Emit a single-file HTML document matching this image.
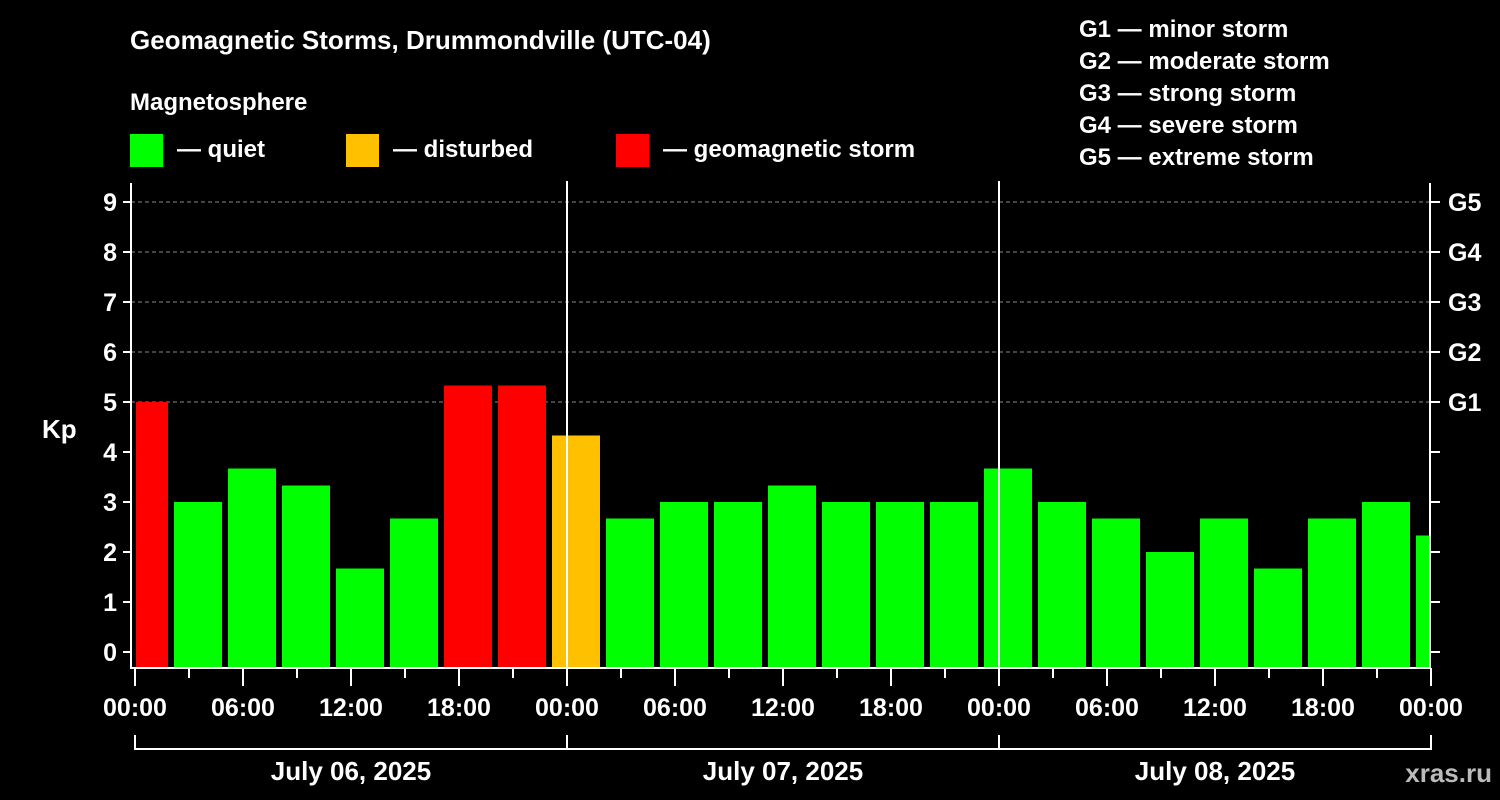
<!DOCTYPE html>
<html><head><meta charset="utf-8"><style>
html,body{margin:0;padding:0;background:#000;width:1500px;height:800px;overflow:hidden}
svg text{font-family:"Liberation Sans",Arial,sans-serif;font-weight:bold;fill:#fff}
</style></head><body>
<svg id="chart" width="1500" height="800" xmlns="http://www.w3.org/2000/svg">
<text x="130" y="49" font-size="26">Geomagnetic Storms, Drummondville (UTC-04)</text>
<text x="130" y="110" font-size="24">Magnetosphere</text>
<g><rect x="130" y="134" width="33" height="33" fill="#00ff00"/><text x="177" y="157" font-size="24">— quiet</text></g>
<g><rect x="346" y="134" width="33" height="33" fill="#ffc000"/><text x="393" y="157" font-size="24">— disturbed</text></g>
<g><rect x="616" y="134" width="33" height="33" fill="#ff0000"/><text x="663" y="157" font-size="24">— geomagnetic storm</text></g>
<g font-size="24">
<text x="1079" y="37">G1 — minor storm</text>
<text x="1079" y="69">G2 — moderate storm</text>
<text x="1079" y="101">G3 — strong storm</text>
<text x="1079" y="133">G4 — severe storm</text>
<text x="1079" y="165">G5 — extreme storm</text>
</g>
<text x="42" y="438" font-size="26">Kp</text>
<text x="1492" y="782" font-size="26" text-anchor="end" fill="#ccc" style="fill:#bbb">xras.ru</text>
<g id="grid"></g><g id="bars"></g><g id="axes"></g>
</svg>
<script>
const kpValues=[5.0,3.0,3.67,3.33,1.67,2.67,5.33,5.33,4.33,2.67,3.0,3.0,3.33,3.0,3.0,3.0,3.67,3.0,2.67,2.0,2.67,1.67,2.67,3.0,2.33];
const yTicks=[0,1,2,3,4,5,6,7,8,9];
const gLabels=["G1","G2","G3","G4","G5"];
const xTickLabels=["00:00","06:00","12:00","18:00","00:00","06:00","12:00","18:00","00:00","06:00","12:00","18:00","00:00"];
const dateLabels=["July 06, 2025","July 07, 2025","July 08, 2025"];
const NS="http://www.w3.org/2000/svg";
const X0=135,PXH=18,L=131,R=1430,T=183,B=668;
const xh=h=>X0+h*PXH;
const yk=k=>652-k*50;
function mk(p,tag,a){const e=document.createElementNS(NS,tag);for(const k in a)e.setAttribute(k,a[k]);p.appendChild(e);return e;}
const grid=document.getElementById('grid'),bars=document.getElementById('bars'),axes=document.getElementById('axes');
[5,6,7,8,9].forEach(k=>{const l=mk(grid,'line',{x1:L,x2:R,y1:yk(k),y2:yk(k),stroke:'#888','stroke-dasharray':'4,3','stroke-width':1});

});
kpValues.forEach((v,i)=>{
 let s=xh(-1+3*i)+3,e=xh(2+3*i)-3;
 s=Math.max(s,L+5);e=Math.min(e,R);
 const c=v>=5?'#ff0000':(v>=4?'#ffc000':'#00ff00');
 const r=mk(bars,'rect',{x:s,y:yk(v),width:e-s,height:B-yk(v),fill:c});
 
 
});
[24,48].forEach(h=>{const l=mk(axes,'line',{x1:xh(h),x2:xh(h),y1:T-2,y2:B,stroke:'#fff','stroke-width':2});

});
const fr=mk(axes,'path',{d:`M${L} ${T}V${B}H${R}V${T}`,fill:'none',stroke:'#fff','stroke-width':2});


yTicks.forEach(k=>{
 mk(axes,'line',{x1:123,x2:L,y1:yk(k),y2:yk(k),stroke:'#fff','stroke-width':2});
 mk(axes,'line',{x1:R,x2:1440,y1:yk(k),y2:yk(k),stroke:'#fff','stroke-width':2});
 const t=mk(axes,'text',{x:117,y:yk(k)+9,'font-size':25,'text-anchor':'end'});t.textContent=k;
 
 
});
gLabels.forEach((g,i)=>{const t=mk(axes,'text',{x:1448,y:yk(5+i)+9,'font-size':25});t.textContent=g;
 
 });
for(let h=0;h<=72;h+=3){const major=h%6===0;mk(axes,'line',{x1:xh(h),x2:xh(h),y1:B,y2:major?686:678,stroke:'#fff','stroke-width':2});}
xTickLabels.forEach((s,i)=>{const t=mk(axes,'text',{x:xh(i*6),y:716,'font-size':25,'text-anchor':'middle'});t.textContent=s;
 
 });
const br=mk(axes,'path',{d:`M${xh(0)} 735V749H${xh(72)}V735M${xh(24)} 735V749M${xh(48)} 735V749`,fill:'none',stroke:'#fff','stroke-width':2});


dateLabels.forEach((s,i)=>{const t=mk(axes,'text',{x:xh(12+24*i),y:780,'font-size':26,'text-anchor':'middle'});t.textContent=s;
 
 });
</script>
</body></html>
